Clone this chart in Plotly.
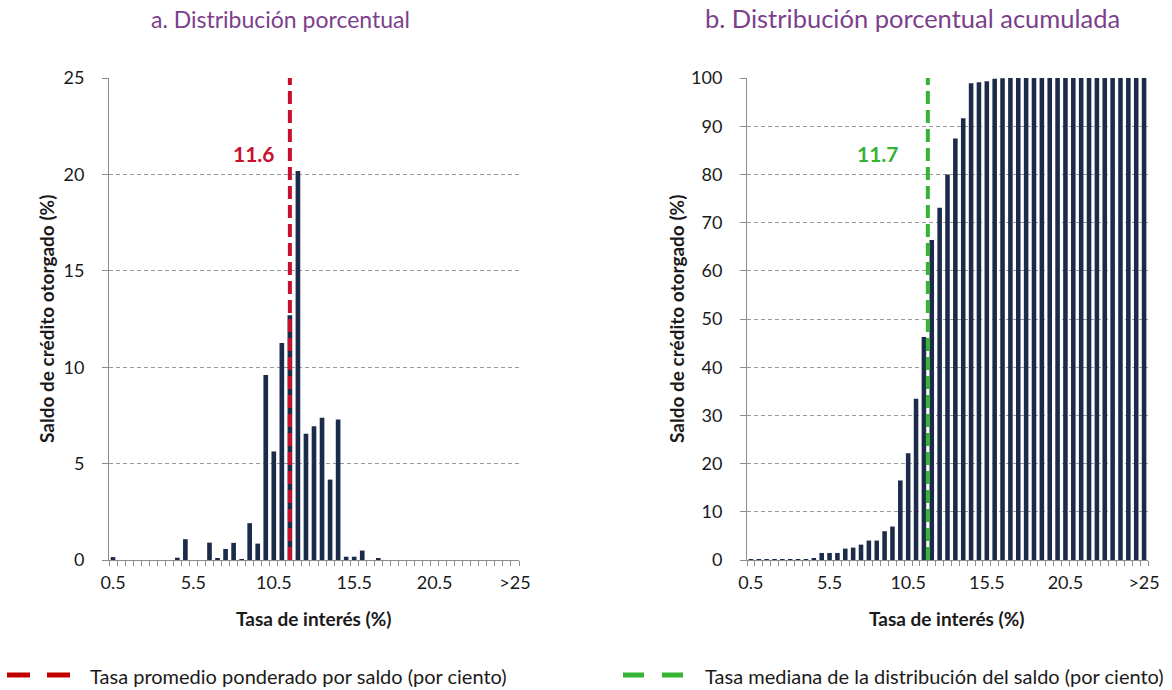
import plotly.graph_objects as go

# ---------------- data ----------------
categories = ["0.5", "1", "1.5", "2", "2.5", "3", "3.5", "4", "4.5", "5",
              "5.5", "6", "6.5", "7", "7.5", "8", "8.5", "9", "9.5", "10",
              "10.5", "11", "11.5", "12", "12.5", "13", "13.5", "14", "14.5", "15",
              "15.5", "16", "16.5", "17", "17.5", "18", "18.5", "19", "19.5", "20",
              "20.5", "21", "21.5", "22", "22.5", "23", "23.5", "24", "24.5", "25",
              ">25"]

dist_pct = [0.15, 0.0, 0.0, 0.0, 0.0, 0.0, 0.0, 0.0, 0.12, 1.08,
            0.0, 0.0, 0.9, 0.07, 0.57, 0.89, 0.02, 1.91, 0.85, 9.6,
            5.63, 11.25, 12.69, 20.17, 6.55, 6.94, 7.38, 4.17, 7.29, 0.17,
            0.17, 0.49, 0.0, 0.1, 0.0, 0.0, 0.0, 0.0, 0.0, 0.0,
            0.0, 0.0, 0.0, 0.0, 0.0, 0.0, 0.0, 0.0, 0.0, 0.0,
            0.0]

cum_pct = [0.05, 0.05, 0.05, 0.05, 0.05, 0.05, 0.2, 0.2, 0.35, 1.46,
           1.46, 1.46, 2.36, 2.57, 3.19, 4.03, 4.03, 5.97, 6.94, 16.5,
           22.15, 33.47, 46.25, 66.4, 73.06, 80.0, 87.43, 91.67, 98.9, 99.1,
           99.3, 99.86, 99.95, 100, 100, 100, 100, 100, 100, 100,
           100, 100, 100, 100, 100, 100, 100, 100, 100, 100,
           100]

tick_labels = ["0.5", "5.5", "10.5", "15.5", "20.5", ">25"]
mean_rate = 11.6
median_rate = 11.7

titles = ["a. Distribución porcentual", "b. Distribución porcentual acumulada"]
y_title = "Saldo de crédito otorgado (%)"
x_title = "Tasa de interés (%)"
legend_texts = ["Tasa promedio ponderado por saldo (por ciento)",
                "Tasa mediana de la distribución del saldo (por ciento)"]

# ---------------- style ----------------
FONT = "Lato, 'Open Sans', sans-serif"
BAR = "#1C2B49"
RED = "#C8102E"
GREEN = "#35B335"
PURPLE = "#7B3F8C"
AXIS = "#8C8C8C"
GRID = "#9A9A9A"
TXT = "#1a1a1a"

W, H = 1172, 690
def px(x):
    return x / W
def py(y):
    return 1 - y / H

dom_left = [px(109), px(519)]
dom_right = [px(747), px(1148)]
dom_y = [py(560), py(78)]

ticktext = [c if c in tick_labels else "" for c in categories]

fig = go.Figure()
fig.add_trace(go.Bar(x=categories, y=dist_pct, marker=dict(color=BAR, line=dict(width=0)),
                     xaxis="x", yaxis="y", showlegend=False))
fig.add_trace(go.Bar(x=categories, y=cum_pct, marker=dict(color=BAR, line=dict(width=0)),
                     xaxis="x2", yaxis="y2", showlegend=False))

def xaxis(domain, anchor):
    return dict(domain=domain, anchor=anchor, type="category",
                categoryorder="array", categoryarray=categories,
                range=[-0.5, len(categories) - 0.5],
                tickmode="array", tickvals=categories, ticktext=ticktext,
                tickangle=0, automargin=False,
                tickson="boundaries", ticks="outside", ticklen=5, tickcolor=AXIS,
                showline=True, linecolor=AXIS, linewidth=1, showgrid=False,
                tickfont=dict(family=FONT, size=18, color=TXT),
                ticklabelstandoff=6, zeroline=False)

def yaxis(domain, anchor, rng, dtick):
    return dict(domain=domain, anchor=anchor, range=rng, dtick=dtick,
                automargin=False,
                showline=True, linecolor=AXIS, linewidth=1,
                ticks="outside", ticklen=6, tickcolor=AXIS,
                showgrid=True, gridcolor=GRID, griddash="4px,3px", gridwidth=1,
                zeroline=False,
                tickfont=dict(family=FONT, size=18, color=TXT),
                ticklabelstandoff=14)

fig.update_layout(
    width=W, height=H,
    margin=dict(l=0, r=0, t=0, b=0, autoexpand=False),
    paper_bgcolor="white", plot_bgcolor="white",
    bargap=0.42,
    xaxis=xaxis(dom_left, "y"),
    yaxis=yaxis(dom_y, "x", [0, 25], 5),
    xaxis2=xaxis(dom_right, "y2"),
    yaxis2=yaxis(dom_y, "x2", [0, 100], 10),
    font=dict(family=FONT),
)

# vertical reference lines (positions from the rates, on the category index scale)
def rate_to_idx(r):
    return (r - 0.5) / 0.5

fig.add_shape(type="line", xref="x", yref="y",
              x0=rate_to_idx(mean_rate) - 0.2, x1=rate_to_idx(mean_rate) - 0.2,
              y0=0, y1=25, line=dict(color=RED, width=4, dash="13px,6px"))
fig.add_shape(type="line", xref="x2", yref="y2",
              x0=rate_to_idx(median_rate) + 0.1, x1=rate_to_idx(median_rate) + 0.1,
              y0=0, y1=100, line=dict(color=GREEN, width=4, dash="13px,6px"))

def ann(text, x, y, size, color, xanchor="center", angle=0):
    return dict(text=text, xref="paper", yref="paper", x=px(x), y=py(y),
                xanchor=xanchor, yanchor="middle", textangle=angle, showarrow=False,
                font=dict(family=FONT, size=size, color=color))

annotations = [
    ann("<b>%.1f</b>" % mean_rate, 254, 153, 21, RED),
    ann("<b>%.1f</b>" % median_rate, 878, 153, 21, GREEN),
    ann(titles[0], 280, 19, 23, PURPLE),
    ann(titles[1], 912, 18, 25.5, PURPLE),
]
for xc, xt in [(47, 314), (677, 947)]:
    annotations.append(ann("<b>%s</b>" % y_title, xc, 319, 19, TXT, angle=-90))
    annotations.append(ann("<b>%s</b>" % x_title, xt, 618, 19, TXT))

# legend
fig.add_shape(type="line", xref="paper", yref="paper", x0=px(7), x1=px(70),
              y0=py(675), y1=py(675), line=dict(color="#C00000", width=5, dash="23px,17px"))
fig.add_shape(type="line", xref="paper", yref="paper", x0=px(623), x1=px(683),
              y0=py(675), y1=py(675), line=dict(color=GREEN, width=5, dash="21px,18px"))
annotations.append(ann(legend_texts[0], 88, 676, 20, TXT, xanchor="left"))
annotations.append(ann(legend_texts[1], 703, 676, 20, TXT, xanchor="left"))

fig.update_layout(annotations=annotations)
fig.write_html("out.html", config={"displayModeBar": False},
               post_script="document.body.style.margin='0';")
